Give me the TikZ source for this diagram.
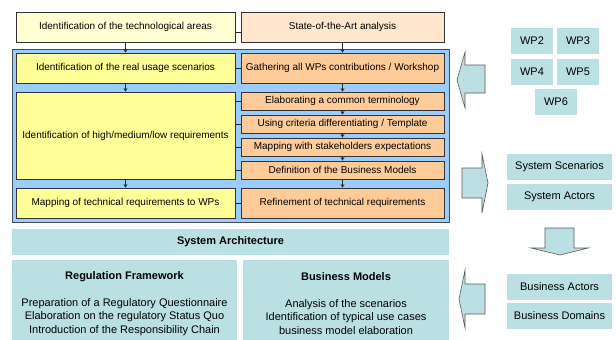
\documentclass[tikz,border=0pt]{standalone}
\usepackage{fontspec}
\setmainfont{Liberation Sans}
\usetikzlibrary{arrows.meta}

\definecolor{paleyellow}{HTML}{FFFFD2}
\definecolor{palepeach}{HTML}{FFE6CC}
\definecolor{reqyellow}{HTML}{FFFF99}
\definecolor{taskorange}{HTML}{FFCC99}
\definecolor{frameblue}{HTML}{99CCFF}
\definecolor{lightteal}{HTML}{BBE0E3}

\begin{document}
\begin{tikzpicture}[x=1pt, y=-1pt, font=\fontsize{10}{12}\selectfont]
        \tikzset{BoxStyle/.style={draw=black!80, line width=0.7pt, inner sep=1pt,
            align=center, minimum height=18pt}}
        \tikzset{YellowStyle/.style={BoxStyle, fill=reqyellow, minimum width=219pt}}
        \tikzset{OrangeStyle/.style={BoxStyle, fill=taskorange, minimum width=203pt}}
        \tikzset{TealStyle/.style={fill=lightteal, inner sep=1pt, align=center,
            font=\fontsize{11}{13.5}\selectfont}}
        \tikzset{LinkStyle/.style={draw=black!85, line width=0.7pt}}
        \tikzset{FlowStyle/.style={LinkStyle, -{Stealth[length=3.5pt, width=4pt]}}}
        \tikzset{BlockStyle/.style={fill=lightteal, draw=black!65, line width=0.6pt}}

        \useasboundingbox (0,0) rectangle (616,340);

        \node[draw=black!70, line width=0.9pt, fill=frameblue,
          minimum width=437pt, minimum height=173pt] (frame) at (230.5,135.5) {};

        \node[YellowStyle, fill=paleyellow, minimum height=30pt] (tech) at (125.5,27)
          {Identification of the technological areas};
        \node[OrangeStyle, fill=palepeach, minimum height=30pt] (sota) at (342.5,27)
          {State-of-the-Art analysis};

        \node[YellowStyle, minimum height=30pt] (usage) at (125.5,68)
          {Identification of the real usage scenarios};
        \node[OrangeStyle, minimum height=30pt] (gather) at (342.5,68)
          {Gathering all WPs contributions / Workshop};

        \node[YellowStyle, minimum height=87pt] (req) at (125.5,135.5)
          {Identification of high/medium/low requirements};
        \node[OrangeStyle] (elab) at (342.5,101) {Elaborating a common terminology};
        \node[OrangeStyle] (crit) at (342.5,124) {Using criteria differentiating / Template};
        \node[OrangeStyle] (stake) at (342.5,147) {Mapping with stakeholders expectations};
        \node[OrangeStyle] (bmodel) at (342.5,170) {Definition of the Business Models};

        \node[YellowStyle, minimum height=30pt] (maptech) at (125.5,203)
          {Mapping of technical requirements to WPs};
        \node[OrangeStyle, minimum height=30pt] (refine) at (342.5,203)
          {Refinement of technical requirements};

        \draw[LinkStyle] ([yshift=-5pt]tech.east) -- ([yshift=-5pt]sota.west);
        \draw[LinkStyle] (usage) -- (gather);
        \foreach \t in {elab, crit, stake, bmodel}
          \draw[LinkStyle] (req.east |- \t.west) -- (\t.west);
        \draw[LinkStyle] (maptech) -- (refine);

        \draw[FlowStyle] (tech) -- (usage);
        \draw[FlowStyle] (usage) -- (req);
        \draw[FlowStyle] (req) -- (maptech);
        \draw[FlowStyle] (sota) -- (gather);
        \draw[FlowStyle] (gather) -- (elab);
        \draw[FlowStyle] (elab) -- (crit);
        \draw[FlowStyle] (crit) -- (stake);
        \draw[FlowStyle] (stake) -- (bmodel);
        \draw[FlowStyle] (bmodel) -- (refine);

        \node[TealStyle, font=\fontsize{11}{13.5}\selectfont\bfseries,
          minimum width=437pt, minimum height=26pt] (arch) at (230.5,242)
          {System Architecture};
        \node[TealStyle, anchor=north, minimum width=225pt, minimum height=86pt] (reg)
          at (124.5,260) {\textbf{Regulation Framework}\\[13.5pt]
            Preparation of a Regulatory Questionnaire\\
            Elaboration on the regulatory Status Quo\\
            Introduction of the Responsibility Chain};
        \node[TealStyle, anchor=north, minimum width=206pt, minimum height=86pt] (bm)
          at (346,260) {\textbf{Business Models}\\[13.5pt]
            Analysis of the scenarios\\
            Identification of typical use cases\\
            business model elaboration};

        \begin{scope}[TealStyle/.append style={minimum width=42pt, minimum height=26pt}]
          \node[TealStyle] (wp2) at (532,41) {WP2};
          \node[TealStyle] (wp3) at (578,41) {WP3};
          \node[TealStyle] (wp4) at (532,72) {WP4};
          \node[TealStyle] (wp5) at (578,72) {WP5};
          \node[TealStyle] (wp6) at (556,101.5) {WP6};
        \end{scope}

        \begin{scope}[TealStyle/.append style={minimum width=105pt, minimum height=26pt}]
          \node[TealStyle] (scen) at (559.5,167) {System Scenarios};
          \node[TealStyle] (actors) at (559.5,197) {System Actors};
          \node[TealStyle] (bactors) at (559.5,286.5) {Business Actors};
          \node[TealStyle] (bdomains) at (559.5,316) {Business Domains};
        \end{scope}

        \draw[BlockStyle] (485,65) -- (465,65) -- (465,52) -- (457,80) -- (465,108)
          -- (465,93) -- (485,93) -- cycle;
        \draw[BlockStyle] (462,168) -- (482,168) -- (482,154) -- (488,183) -- (482,213)
          -- (482,198) -- (462,198) -- cycle;
        \draw[BlockStyle] (545,228) -- (574,228) -- (574,248) -- (588,248) -- (560,255)
          -- (531,248) -- (545,248) -- cycle;
        \draw[BlockStyle] (485,284) -- (465,284) -- (465,270) -- (459,299) -- (465,328)
          -- (465,314) -- (485,314) -- cycle;
      \end{tikzpicture}
\end{document}
